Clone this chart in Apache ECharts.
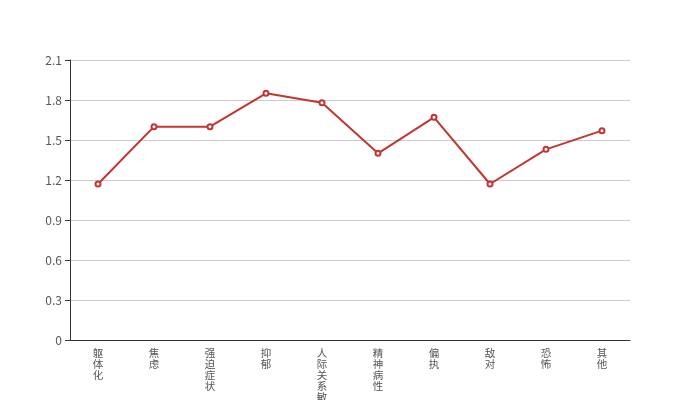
<!DOCTYPE html>
<html><head><meta charset="utf-8">
<script src="https://cdn.jsdelivr.net/npm/echarts@6/dist/echarts.min.js"></script>
<style>html,body{margin:0;padding:0;background:#fff}#c{width:700px;height:400px}</style>
</head><body><div id="c"></div>
<script>
const categories = ['躯体化','焦虑','强迫症状','抑郁','人际关系敏感','精神病性','偏执','敌对','恐怖','其他'];
const values = [1.17, 1.60, 1.60, 1.85, 1.78, 1.40, 1.67, 1.17, 1.43, 1.57];
const yMin = 0, yMax = 2.1, yStep = 0.3;

const chart = echarts.init(document.getElementById('c'), null, {renderer:'canvas'});
chart.setOption({
  animation: false,
  grid: {left: 70, right: 70, top: 60, bottom: 60, containLabel: false, outerBoundsMode: 'none'},
  xAxis: {
    type: 'category',
    data: categories,
    boundaryGap: true,
    axisLine: {lineStyle: {color: '#333'}},
    axisTick: {length: 5, lineStyle: {color: '#666'}},
    axisLabel: {
      interval: 0,
      margin: 8,
      color: '#555',
      fontSize: 10.5,
      lineHeight: 11,
      fontFamily: 'Noto Sans CJK SC',
      formatter: v => v.split('').join('\n')
    }
  },
  yAxis: {
    type: 'value',
    min: yMin, max: yMax, interval: yStep,
    axisLine: {show: true, lineStyle: {color: '#333'}},
    axisTick: {show: true, length: 5, lineStyle: {color: '#333'}},
    axisLabel: {color: '#555', fontSize: 12, fontFamily: 'Noto Sans CJK SC', formatter: v => String(+v.toFixed(1))},
    splitLine: {lineStyle: {color: '#ccc'}}
  },
  series: [{
    type: 'line',
    data: values,
    symbol: 'emptyCircle',
    symbolSize: 5,
    lineStyle: {color: '#c23531', width: 2},
    itemStyle: {color: '#c23531'}
  }]
});
</script></body></html>
